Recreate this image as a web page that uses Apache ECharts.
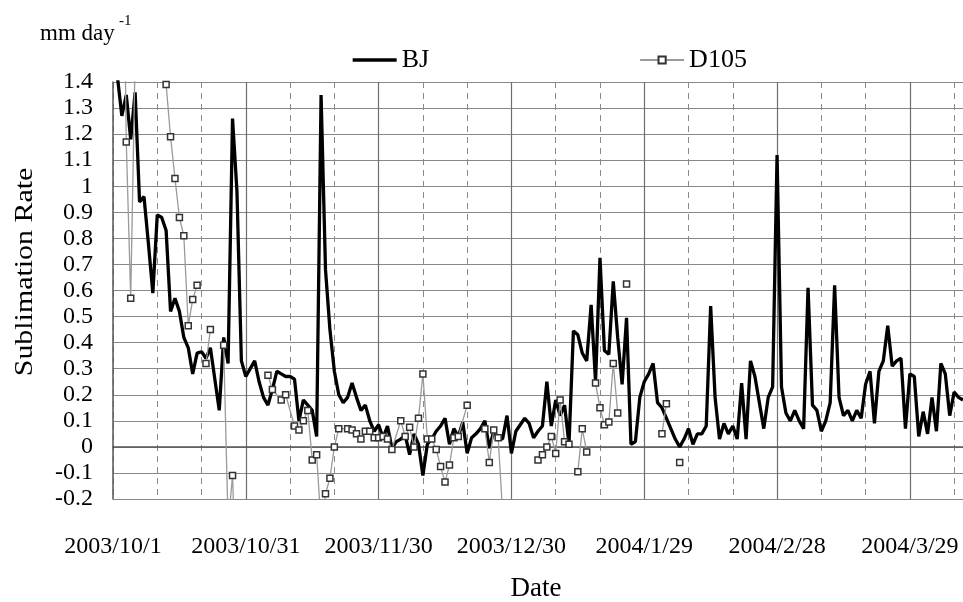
<!DOCTYPE html>
<html><head><meta charset="utf-8">
<script src="https://cdn.jsdelivr.net/npm/echarts@6/dist/echarts.min.js"></script>
<style>html,body{margin:0;padding:0;background:#fff}#c{width:963px;height:602px}</style>
</head><body><div id="c"></div>
<script>
// Tick labels every 30 days from 2003/10/1
const dateLabels = ['2003/10/1','2003/10/31','2003/11/30','2003/12/30','2004/1/29','2004/2/28','2004/3/29'];
const yTicks = { min: -0.2, max: 1.4, step: 0.1 };
const dayCount = 192;

// BJ: daily sublimation rate, day 0 = 2003/10/1
const bjValues = [
 1.55,1.42,1.27,1.35,1.18,1.36,0.94,0.96,0.78,0.59,
 0.89,0.88,0.83,0.52,0.57,0.52,0.42,0.38,0.28,0.36,
 0.365,0.34,0.38,0.26,0.14,0.42,0.32,1.26,0.98,0.33,
 0.27,0.30,0.33,0.25,0.19,0.16,0.22,0.29,0.28,0.27,
 0.27,0.26,0.10,0.18,0.16,0.14,0.04,1.35,0.68,0.45,
 0.29,0.20,0.17,0.19,0.245,0.19,0.14,0.16,0.10,0.06,
 0.085,0.035,0.08,-0.005,0.02,0.03,0.045,-0.03,0.05,0.01,
 -0.11,0.01,0.03,0.06,0.08,0.11,0.01,0.07,0.04,0.095,
 -0.025,0.035,0.05,0.07,0.10,-0.005,0.06,0.035,0.03,0.12,
 -0.025,0.06,0.085,0.11,0.09,0.035,0.06,0.08,0.25,0.08,
 0.18,0.12,0.16,0.01,0.445,0.43,0.36,0.33,0.545,0.25,
 0.725,0.37,0.355,0.635,0.42,0.24,0.495,0.01,0.02,0.19,
 0.25,0.28,0.32,0.17,0.15,0.11,0.07,0.03,0.0,0.03,
 0.07,0.01,0.05,0.05,0.08,0.54,0.19,0.03,0.09,0.05,
 0.08,0.03,0.245,0.03,0.33,0.27,0.17,0.07,0.19,0.23,
 1.12,0.23,0.13,0.10,0.14,0.10,0.07,0.61,0.16,0.14,
 0.06,0.10,0.17,0.62,0.19,0.12,0.14,0.10,0.14,0.11,
 0.24,0.29,0.09,0.29,0.33,0.465,0.31,0.33,0.34,0.07,
 0.28,0.27,0.04,0.135,0.05,0.19,0.06,0.32,0.28,0.12,
 0.21,0.19,0.18
];

// D105: observations (day index from 2003/10/1); null = gap in record
const d105Days = [
 2,3,4,5,6,
 12,13,14,15,16,17,18,19,20,
 21,22,23,
 25,26,27,28,29,
 35,36,38,39,41,42,43,44,45,46,47,48,49,50,51,53,54,55,56,57,58,59,60,61,62,63,
 65,66,67,68,69,70,71,72,73,74,75,76,77,78,80,81,
 84,85,86,87,88,89,
 96,97,98,99,100,101,102,103,104,
 105,106,107,108,
 109,110,111,112,113,114,115,
 116,117,
 124,125,126,
 128
];
const d105Values = [
 2.5,1.17,0.57,1.5,null,
 1.39,1.19,1.03,0.88,0.81,0.465,0.565,0.62,null,
 0.32,0.45,null,
 0.39,-0.3,-0.11,-0.6,null,
 0.275,0.22,0.18,0.20,0.08,0.065,0.10,0.14,-0.05,-0.03,-0.3,-0.18,-0.12,0.0,0.07,0.07,0.065,0.05,0.03,0.06,0.06,0.035,0.035,0.04,0.03,-0.01,
 0.10,0.04,0.075,0.0,0.11,0.28,0.03,0.03,-0.01,-0.075,-0.135,-0.07,0.035,0.04,0.16,null,
 0.07,-0.06,0.065,0.035,-0.25,null,
 -0.05,-0.03,0.0,0.04,-0.025,0.18,0.02,0.01,null,
 -0.095,0.07,-0.02,null,
 0.245,0.15,0.085,0.095,0.32,0.13,null,
 0.625,null,
 0.05,0.165,null,
 -0.06
];

const bjData = bjValues.map((v, i) => [i, v]);
const d105Data = d105Days.map((d, i) => [d, d105Values[i]]);

const FONT = "'Liberation Serif', 'DejaVu Serif', serif";
const chart = echarts.init(document.getElementById('c'), null, { renderer: 'canvas' });
chart.setOption({
  backgroundColor: '#ffffff',
  animation: false,
  grid: { left: 113, right: 0, top: 82, bottom: 103, containLabel: false, outerBoundsMode: 'none' },
  legend: {
    left: 351, top: 47, padding: 0, itemWidth: 44, itemHeight: 9, itemGap: 210,
    textStyle: { fontFamily: FONT, fontSize: 26, color: '#000' },
    data: [
      { name: 'BJ', itemStyle: { opacity: 0 }, lineStyle: { width: 3.3, color: '#000' } },
      { name: 'D105' }
    ]
  },
  xAxis: [{
    type: 'value', min: 0, max: dayCount, interval: 10,
    axisLine: { show: true, lineStyle: { color: '#555', width: 1.5 } },
    axisTick: { show: false },
    axisLabel: {
      margin: 36, fontFamily: FONT, fontSize: 24, color: '#000',
      showMaxLabel: false,
      formatter: v => (v % 30 === 0 ? dateLabels[v / 30] : '')
    },
    splitLine: { show: true, showMaxLine: false, lineStyle: { color: '#8a8a8a', type: [6, 5], width: 1 } }
  }, {
    type: 'value', min: 0, max: dayCount, interval: 30, position: 'top',
    axisLine: { show: false }, axisTick: { show: false }, axisLabel: { show: false },
    splitLine: { show: true, showMaxLine: false, showMinLine: false, lineStyle: { color: '#6f6f6f', width: 1.2 } }
  }],
  yAxis: {
    type: 'value', min: yTicks.min, max: yTicks.max, interval: yTicks.step,
    axisLine: { show: true, lineStyle: { color: '#555', width: 1.5 } },
    axisTick: { show: false },
    axisLabel: { margin: 20, fontFamily: FONT, fontSize: 24, color: '#000',
      formatter: v => String(Math.round(v * 10) / 10) },
    splitLine: { show: true, lineStyle: { color: '#888', width: 1.2 } }
  },
  graphic: [
    { type: 'text', x: 40, y: 22, style: { text: 'mm day', font: "23px 'Liberation Serif'", fill: '#000' } },
    { type: 'text', x: 119, y: 14, style: { text: '-1', font: "15px 'Liberation Serif'", fill: '#000' } },
    { type: 'text', x: 25, y: 272, rotation: Math.PI / 2, scaleX: 1.15,
      style: { text: 'Sublimation Rate', font: "26px 'Liberation Serif'", fill: '#000', align: 'center', verticalAlign: 'middle' } },
    { type: 'text', x: 536, y: 589,
      style: { text: 'Date', font: "27px 'Liberation Serif'", fill: '#000', align: 'center', verticalAlign: 'middle' } }
  ],
  series: [{
    name: 'BJ', type: 'line', data: bjData, xAxisIndex: 0,
    symbol: 'none', clip: true, z: 3,
    lineStyle: { color: '#000', width: 3.3 }, itemStyle: { color: '#000' }
  }, {
    name: 'D105', type: 'line', data: d105Data, xAxisIndex: 0,
    symbol: 'rect', symbolSize: 6, showSymbol: true, showAllSymbol: true, clip: true, connectNulls: false, z: 4,
    lineStyle: { color: '#9a9a9a', width: 1.3 },
    itemStyle: { color: '#fff', borderColor: '#333', borderWidth: 1.5 }
  }]
});
</script></body></html>
